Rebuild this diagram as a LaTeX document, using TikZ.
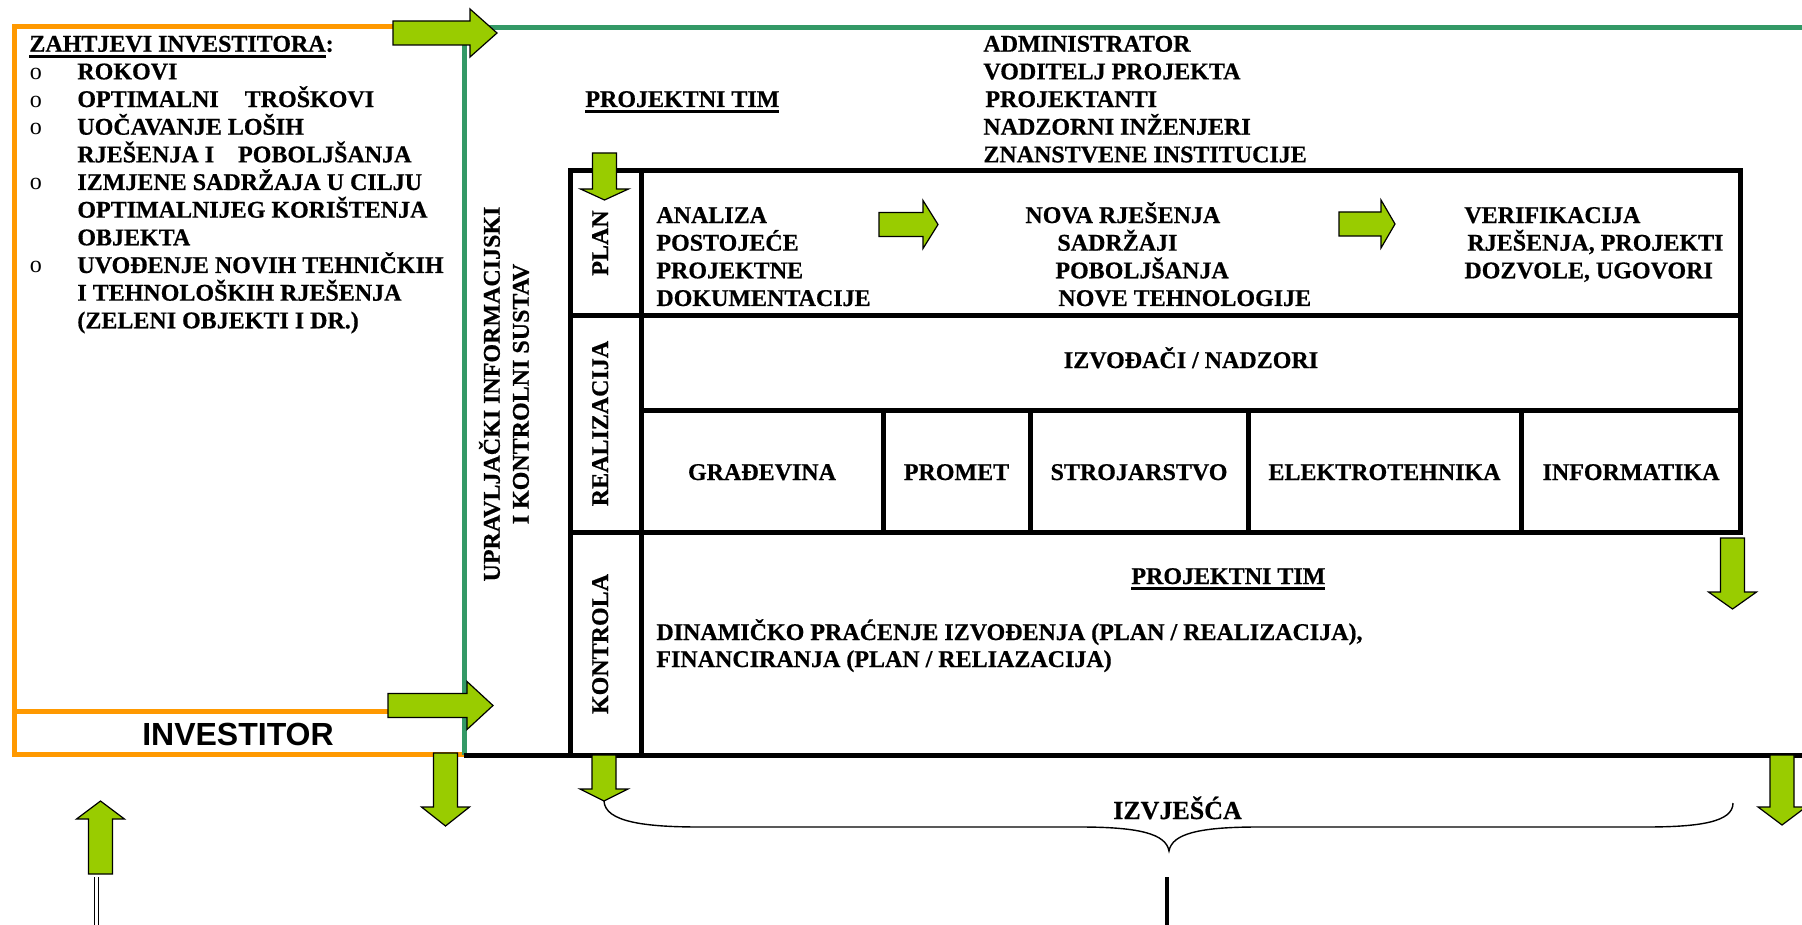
\documentclass[tikz,border=0pt]{standalone}
\usepackage{fontspec}
\setmainfont{Liberation Serif}[BoldFeatures={FakeBold=0.6}]
\newfontfamily\sansfam{Liberation Sans}
\definecolor{investorange}{RGB}{255,153,0}
\definecolor{sysgreen}{RGB}{51,153,102}
\definecolor{arrowgreen}{RGB}{153,204,0}
\newcommand{\ulined}[1]{\setbox0=\hbox{#1}\rlap{\rule[-3pt]{\wd0}{1.3pt}}\box0}

\begin{document}
\begin{tikzpicture}[
        x=0.5pt,
        y=-0.5pt,
        txt/.style={font=\bfseries\fontsize{12}{14}\selectfont, inner sep=0pt, anchor=base west},
        cellmid/.style={txt, anchor=base},
        sidelabel/.style={txt, rotate=90, anchor=base},
        bulletdot/.style={font=\fontsize{12}{14}\selectfont, inner sep=0pt, anchor=base west},
        boxline/.style={line width=2.5pt, line join=miter},
        orangeline/.style={draw=investorange, line width=2.5pt},
        greenline/.style={draw=sysgreen, line width=2.5pt, line join=miter},
        pics/blockarrow/.style 2 args={code={
            \draw[draw=black, fill=arrowgreen, line width=0.6pt, line join=miter]
                (0,-12) -- ({#1-#2},-12) -- ({#1-#2},-24) -- (#1,0)
                -- ({#1-#2},24) -- ({#1-#2},12) -- (0,12) -- cycle;
        }}
    ]
    \useasboundingbox (0,0) rectangle (1802,925);
    \clip (0,0) rectangle (1802,925);

    % investitor and the system frame
    \draw[orangeline] (14,26.5) rectangle (464,754.5);
    \draw[orangeline] (14,711.5) -- (464,711.5);
    \draw[greenline] (1802,27.5) -- (464,27.5) -- (464,754.5);

    \draw[boxline] (570.5,755) -- (570.5,170.5) -- (1740.5,170.5) -- (1740.5,532) -- (570.5,532);
    \draw[boxline] (641.5,170.5) -- (641.5,755);
    \draw[boxline] (570.5,315) -- (1740.5,315);
    \draw[boxline] (641.5,410) -- (1740.5,410);
    \foreach \x in {883,1030,1248,1521}
        \draw[boxline] (\x,410) -- (\x,532);
    \draw[boxline] (464,755) -- (1802,755);

    % left column
    \node[txt] (reqHead) at (29,51.7) {\ulined{ZAHTJEVI INVESTITORA}:};
    \foreach \k/\lbl in {1/ROKOVI, 2/{OPTIMALNI\hspace{13pt}TROŠKOVI}, 3/UOČAVANJE LOŠIH,
            4/{RJEŠENJA I\hspace{12pt}POBOLJŠANJA}, 5/IZMJENE SADRŽAJA U CILJU,
            6/OPTIMALNIJEG KORIŠTENJA, 7/OBJEKTA, 8/UVOĐENJE NOVIH TEHNIČKIH,
            9/I TEHNOLOŠKIH RJEŠENJA, 10/{(ZELENI OBJEKTI I DR.)}}
        \node[txt] (req\k) at (77,{51.7+27.66*\k}) {\lbl};
    \foreach \k in {1,2,3,5,8}
        \node[bulletdot] (dot\k) at (29.5,{51.7+27.66*\k}) {o};
    \node[cellmid, font=\sansfam\bfseries\fontsize{16}{19}\selectfont] (inv) at (238,745) {INVESTITOR};

    % team
    \node[txt] (team) at (585,107) {\ulined{PROJEKTNI TIM}};
    \foreach \k/\x/\lbl in {0/983/ADMINISTRATOR, 1/983/VODITELJ PROJEKTA, 2/985/PROJEKTANTI,
            3/983/NADZORNI INŽENJERI, 4/983/ZNANSTVENE INSTITUCIJE}
        \node[txt] (role\k) at (\x,{51.7+27.66*\k}) {\lbl};

    \node[sidelabel, align=center, anchor=center, font=\bfseries\fontsize{12}{14.5}\selectfont]
        (mis) at (504,394) {UPRAVLJAČKI INFORMACIJSKI\\I KONTROLNI SUSTAV};
    \node[sidelabel] (plan) at (608,243) {PLAN};
    \node[sidelabel] (real) at (608,423.5) {REALIZACIJA};
    \node[sidelabel] (kontr) at (608,644) {KONTROLA};

    % plan
    \foreach \k/\lbl in {0/ANALIZA, 1/POSTOJEĆE, 2/PROJEKTNE, 3/DOKUMENTACIJE}
        \node[txt] (ana\k) at (656,{223+27.66*\k}) {\lbl};
    \foreach \k/\x/\lbl in {0/1025/NOVA RJEŠENJA, 1/1057/SADRŽAJI, 2/1055/POBOLJŠANJA,
            3/1058/NOVE TEHNOLOGIJE}
        \node[txt] (new\k) at (\x,{223+27.66*\k}) {\lbl};
    \foreach \k/\x/\lbl in {0/1464/VERIFIKACIJA, 1/1467/{RJEŠENJA, PROJEKTI},
            2/1464/{DOZVOLE, UGOVORI}}
        \node[txt] (ver\k) at (\x,{223+27.66*\k}) {\lbl};

    % realizacija
    \node[cellmid] (izv) at (1191,368) {IZVOĐAČI / NADZORI};
    \foreach \n/\x/\lbl in {grad/762/GRAĐEVINA, prom/956.5/PROMET, stroj/1139/STROJARSTVO,
            elek/1384.5/ELEKTROTEHNIKA, info/1631/INFORMATIKA}
        \node[cellmid] (\n) at (\x,480) {\lbl};

    % kontrola
    \node[txt] (team2) at (1131,584) {\ulined{PROJEKTNI TIM}};
    \node[txt] (dyn1) at (656,640) {DINAMIČKO PRAĆENJE IZVOĐENJA (PLAN / REALIZACIJA),};
    \node[txt] (dyn2) at (656,667) {FINANCIRANJA (PLAN / RELIAZACIJA)};

    % izvjesca
    \coordinate (braceL) at (604,801);
    \coordinate (braceM) at (1169,851);
    \coordinate (braceR) at (1733,803);
    \draw[line width=0.7pt] (braceL) .. controls (605,822) and (645,827) .. (700,827)
        -- (1080,827) .. controls (1140,827) and (1166,834) .. (braceM)
        .. controls (1172,834) and (1198,827) .. (1258,827)
        -- (1645,827) .. controls (1700,827) and (1733,822) .. (braceR);
    \node[cellmid, font=\bfseries\fontsize{13}{15}\selectfont] (rep) at (1177.5,819) {IZVJEŠĆA};
    \coordinate (repTop) at (1167,877);
    \coordinate (repEnd) at (1167,925);
    \draw[line width=2pt] (repTop) -- (repEnd);
    \coordinate (invTop) at (96.5,877);
    \coordinate (invEnd) at (96.5,925);
    \draw[double, double distance=1.3pt, line width=0.5pt] (invTop) -- (invEnd);

    % green arrows
    \pic at (393,33) {blockarrow={104}{27}};
    \pic at (388,705.5) {blockarrow={105}{26}};
    \pic at (879,224.5) {blockarrow={59}{15}};
    \pic at (1339,224) {blockarrow={56}{14}};
    \pic[rotate=-90] at (604.5,153) {blockarrow={47}{11}};
    \pic[rotate=-90] at (1732.5,538) {blockarrow={71}{17}};
    \pic[rotate=-90] at (445.5,753) {blockarrow={73}{19}};
    \pic[rotate=-90] at (604,755) {blockarrow={46}{12}};
    \pic[rotate=-90] at (1782,755) {blockarrow={70}{18}};
    \pic[rotate=90] at (100.5,874) {blockarrow={73}{18}};
\end{tikzpicture}
\end{document}
